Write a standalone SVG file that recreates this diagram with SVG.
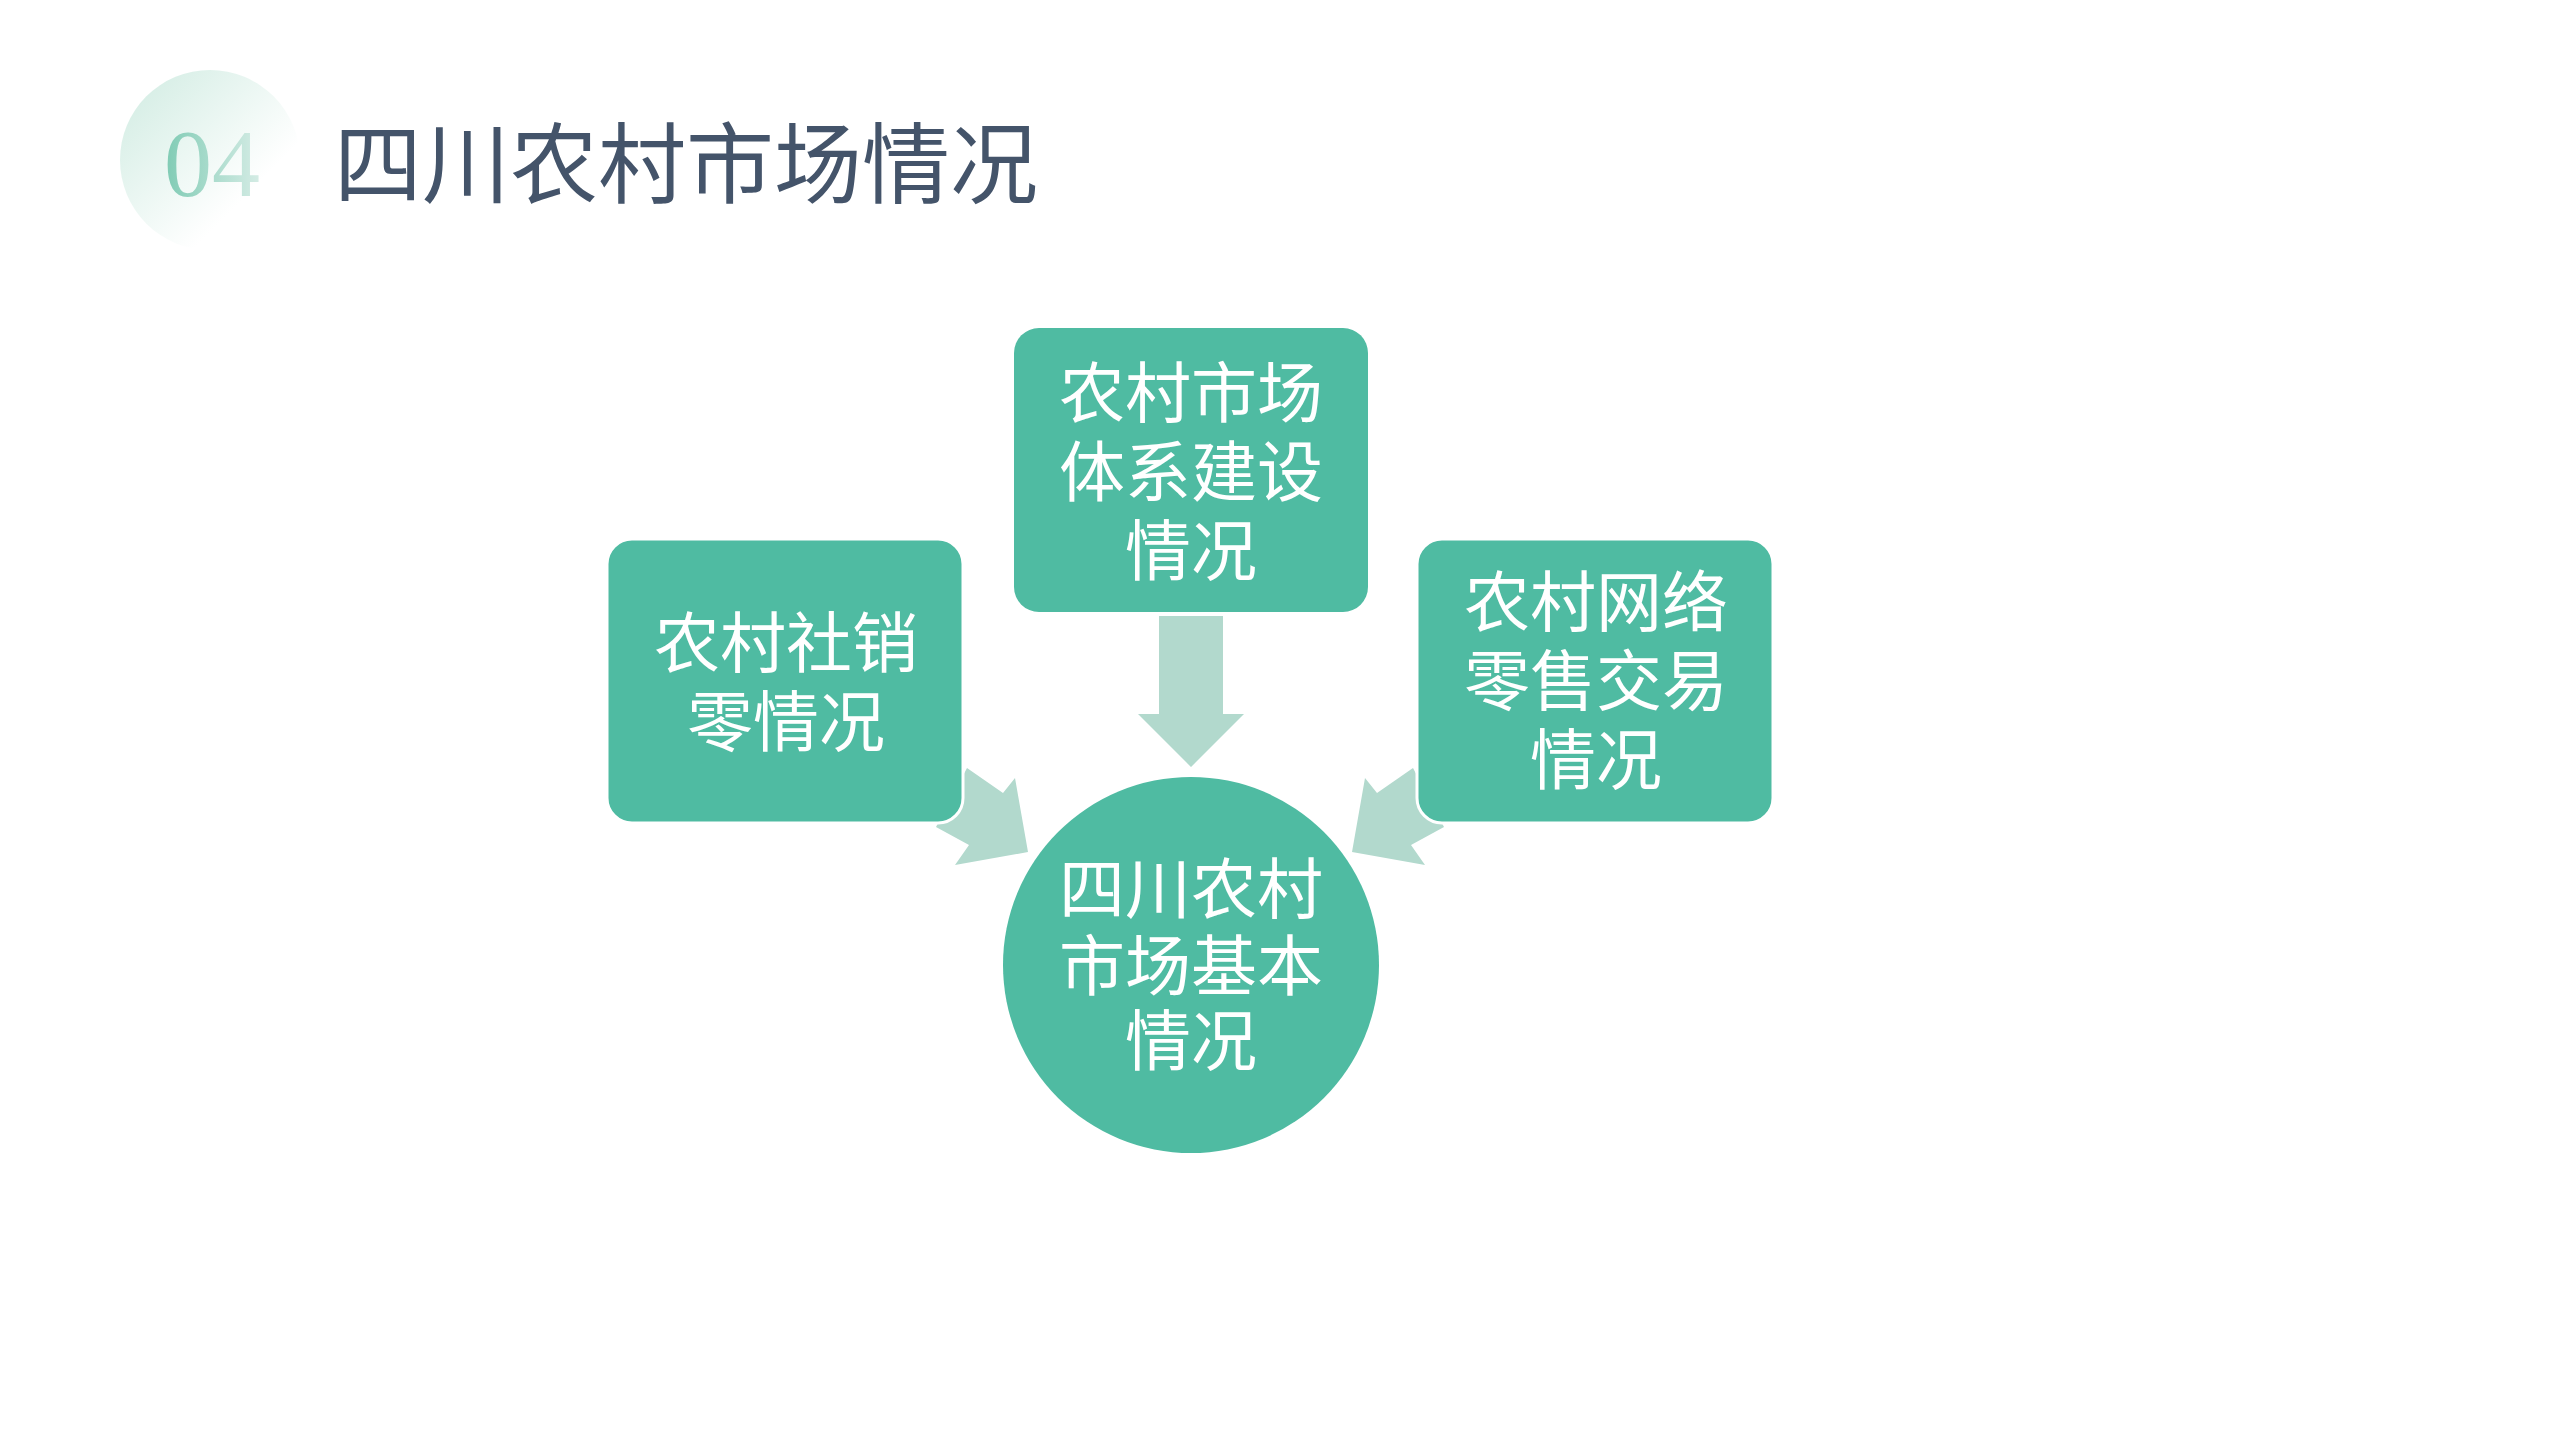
<svg xmlns="http://www.w3.org/2000/svg" width="2560" height="1440" viewBox="0 0 2560 1440">
<style>
.box{fill:#4FBBA2}
.arr{fill:#B2D9CD}
.t{font-family:"Noto Sans CJK SC","Noto Sans",sans-serif;font-size:66px;fill:#FFFFFF;text-anchor:middle;dominant-baseline:central}
</style>
<defs>
<linearGradient id="hg" x1="0" y1="0" x2="1" y2="1">
<stop offset="0" stop-color="#CFEBE1"/>
<stop offset="0.7" stop-color="#FFFFFF"/>
</linearGradient>
<linearGradient id="ng" x1="0" y1="0" x2="1" y2="0">
<stop offset="0" stop-color="#7FCBB4"/>
<stop offset="1" stop-color="#D5ECE5"/>
</linearGradient>
</defs>
<rect width="2560" height="1440" fill="#FFFFFF"/>
<g id="header">
<circle cx="210" cy="160" r="90" fill="url(#hg)"/>
<text x="212" y="196" font-family="Liberation Serif,serif" font-size="96" fill="url(#ng)" text-anchor="middle">04</text>
<text x="334" y="196" font-family="Noto Sans CJK SC,sans-serif" font-size="88" fill="#44546A">四川农村市场情况</text>
</g>
<g id="connectors">
<polygon class="arr" points="1159,616 1223,616 1223,714 1244,714 1191,767 1138,714 1159,714"/>
<polygon class="arr" points="936,827 967,768 1003,793 1015,778 1028,852 955,865 969,845"/>
<polygon class="arr" points="1444,827 1413,768 1377,793 1365,778 1352,852 1425,865 1411,845"/>
</g>
<g id="top">
<rect class="box" x="1014" y="328" width="354" height="284" rx="25"/>
<text class="t" x="1191" y="388">农村市场</text>
<text class="t" x="1191" y="467">体系建设</text>
<text class="t" x="1191" y="546">情况</text>
</g>
<g id="left">
<rect class="box" x="607" y="539" width="356" height="284" rx="25" stroke="#FFFFFF" stroke-width="3"/>
<text class="t" x="786" y="638">农村社销</text>
<text class="t" x="786" y="717">零情况</text>
</g>
<g id="right">
<rect class="box" x="1417" y="539" width="356" height="284" rx="25" stroke="#FFFFFF" stroke-width="3"/>
<text class="t" x="1596" y="597">农村网络</text>
<text class="t" x="1596" y="676">零售交易</text>
<text class="t" x="1596" y="755">情况</text>
</g>
<g id="center">
<circle class="box" cx="1191" cy="965" r="188"/>
<text class="t" x="1191" y="884">四川农村</text>
<text class="t" x="1191" y="961">市场基本</text>
<text class="t" x="1191" y="1036">情况</text>
</g>
</svg>
